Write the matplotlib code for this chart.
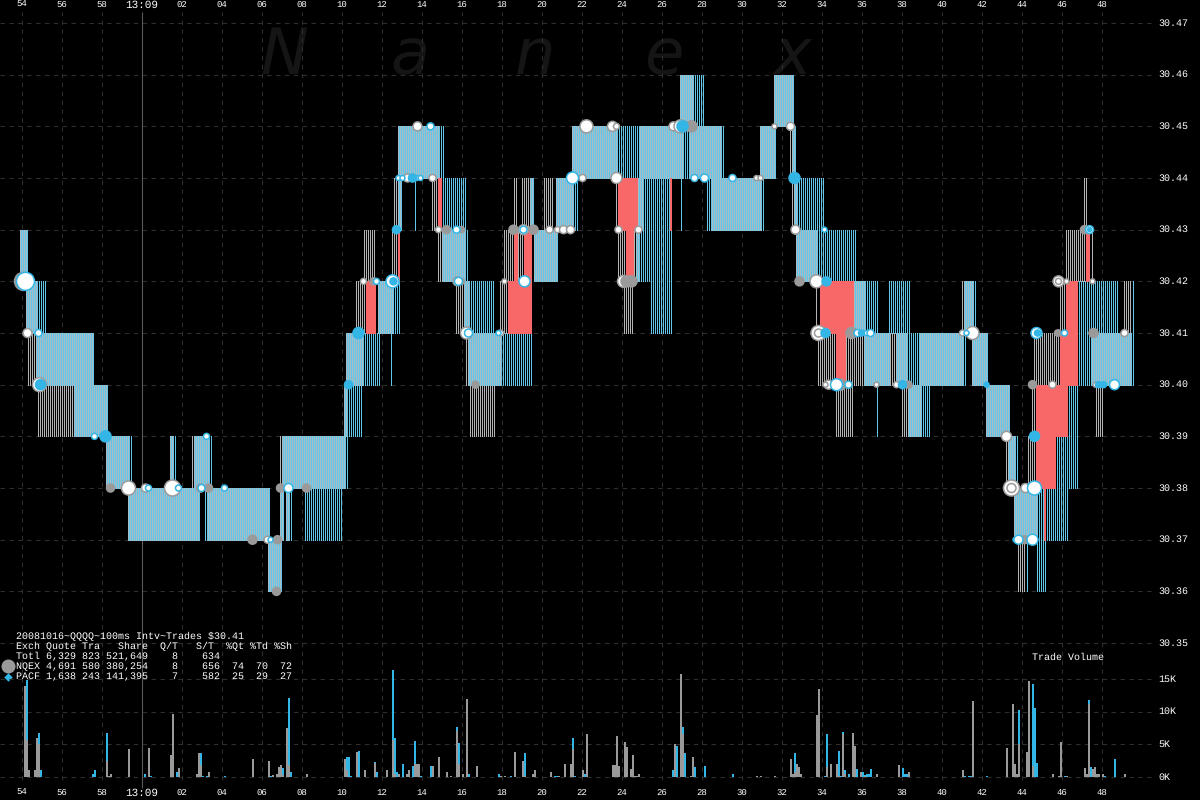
import numpy as np
import matplotlib
matplotlib.use('Agg')
import matplotlib.pyplot as plt

# x unit = one 100ms interval counted from 13:08:54
tick_pos = list(range(0, 560, 20))
tick_labels = ['54', '56', '58', '13:09', '02', '04', '06', '08', '10', '12', '14', '16', '18', '20',
               '22', '24', '26', '28', '30', '32', '34', '36', '38', '40', '42', '44', '46', '48']
price_ticks = [30.35, 30.36, 30.37, 30.38, 30.39, 30.40, 30.41, 30.42, 30.43, 30.44, 30.45, 30.46, 30.47]
vol_ticks = [0, 5, 10, 15]
vol_labels = ['0K', '5K', '10K', '15K']

# (first interval, last interval, bid) - every quote here is one cent wide
both_quotes = [
    (-1, 3, 30.42), (2, 8, 30.41), (7, 36, 30.40), (26, 43, 30.39), (42, 54, 30.38), (74, 76, 30.38),
    (86, 94, 30.38), (130, 162, 30.38), (53, 89, 30.37), (93, 124, 30.37), (129, 131, 30.37), (132, 134, 30.37),
    (123, 130, 30.36), (162, 171, 30.40), (161, 163, 30.39), (178, 186, 30.41), (188, 190, 30.43), (188, 209, 30.44),
    (210, 222, 30.42), (221, 224, 30.41), (223, 240, 30.40), (256, 268, 30.42), (254, 256, 30.43), (267, 276, 30.43),
    (275, 298, 30.44), (309, 331, 30.44), (334, 350, 30.44), (329, 336, 30.45), (376, 386, 30.45), (369, 377, 30.44),
    (385, 387, 30.44), (308, 311, 30.43), (345, 370, 30.43), (386, 388, 30.43), (307, 309, 30.42), (387, 398, 30.42),
    (416, 422, 30.41), (471, 476, 30.41), (421, 434, 30.40), (437, 443, 30.40), (449, 471, 30.40), (475, 483, 30.40),
    (443, 450, 30.39), (482, 494, 30.39), (493, 497, 30.38), (496, 508, 30.37), (535, 555, 30.40),
]
pacf_quotes = [
    (8, 12, 30.41), (54, 55, 30.38), (76, 77, 30.38), (94, 95, 30.38), (162, 163, 30.38), (91, 93, 30.37),
    (134, 135, 30.37), (141, 160, 30.37), (171, 179, 30.40), (163, 170, 30.39), (184, 185, 30.40), (186, 189, 30.41),
    (196, 197, 30.43), (210, 222, 30.43), (209, 211, 30.44), (222, 223, 30.42), (224, 236, 30.41), (240, 255, 30.40),
    (276, 278, 30.43), (298, 309, 30.44), (331, 334, 30.44), (350, 351, 30.44), (336, 341, 30.45), (311, 324, 30.43),
    (329, 330, 30.43), (342, 345, 30.43), (370, 371, 30.43), (388, 401, 30.43), (309, 325, 30.42), (398, 417, 30.42),
    (314, 325, 30.41), (422, 428, 30.41), (433, 444, 30.41), (476, 477, 30.41), (443, 449, 30.40), (471, 472, 30.40),
    (427, 428, 30.39), (450, 454, 30.39), (497, 498, 30.38), (508, 511, 30.37), (512, 523, 30.37), (502, 503, 30.36),
    (507, 512, 30.36), (517, 528, 30.38), (523, 528, 30.39), (528, 535, 30.40), (555, 556, 30.40), (528, 548, 30.41),
    (555, 556, 30.41),
]
nqex_quotes = [
    (3, 7, 30.40), (8, 26, 30.39), (85, 86, 30.38), (129, 130, 30.38), (167, 172, 30.41), (171, 177, 30.42),
    (185, 188, 30.42), (186, 188, 30.43), (205, 208, 30.43), (208, 210, 30.42), (217, 221, 30.41), (222, 223, 30.40),
    (224, 237, 30.39), (239, 243, 30.41), (241, 246, 30.42), (248, 251, 30.42), (246, 248, 30.43), (250, 254, 30.43),
    (261, 266, 30.43), (297, 298, 30.43), (298, 302, 30.42), (306, 307, 30.42), (301, 306, 30.41), (385, 386, 30.43),
    (384, 385, 30.44), (397, 398, 30.41), (470, 471, 30.41), (398, 407, 30.40), (412, 421, 30.40), (434, 437, 30.40),
    (407, 416, 30.39), (440, 443, 30.39), (492, 493, 30.38), (498, 502, 30.36), (503, 507, 30.38), (505, 507, 30.39),
    (506, 519, 30.40), (519, 522, 30.41), (551, 555, 30.41), (522, 532, 30.42), (535, 536, 30.42), (531, 533, 30.43),
    (537, 541, 30.39),
]
crossed_quotes = [
    (172, 177, 30.41), (188, 189, 30.42), (208, 210, 30.43), (243, 255, 30.41), (246, 248, 30.42), (251, 255, 30.42),
    (298, 308, 30.43), (324, 325, 30.43), (302, 306, 30.42), (399, 416, 30.41), (407, 412, 30.40), (507, 517, 30.38),
    (507, 523, 30.39), (511, 512, 30.37), (519, 528, 30.40), (522, 528, 30.41), (532, 534, 30.42),
]

# trades: (interval, price, size)
trades_gray = [
    (0.5, 30.42, 18), (44, 30.38, 8), (89, 30.38, 8), (93, 30.38, 8), (115, 30.37, 9), (127.5, 30.37, 8), (127, 30.36, 8),
    (129, 30.38, 8), (142, 30.38, 8), (175.5, 30.42, 7), (212, 30.43, 8), (219.5, 30.43, 6), (219.5, 30.42, 6),
    (226.5, 30.40, 7), (245.5, 30.43, 9), (255.5, 30.43, 9), (304.5, 30.42, 11), (302, 30.42, 11), (334.5, 30.45, 11),
    (332, 30.45, 9), (388.5, 30.42, 9), (414.5, 30.41, 11), (409, 30.40, 11), (443, 30.40, 7), (501, 30.37, 8),
    (505, 30.40, 8), (531, 30.43, 8), (535.5, 30.41, 9), (517.5, 30.41, 6),
]
trades_white_gray = [
    (2.5, 30.41, 9), (8.5, 30.40, 14), (53, 30.38, 14), (61.5, 30.38, 8), (75, 30.38, 16), (122.5, 30.37, 7), (192.5, 30.44, 8),
    (197.5, 30.45, 9), (205, 30.44, 7), (208, 30.43, 6), (170.5, 30.42, 6), (217.5, 30.42, 9), (222, 30.41, 12), (239, 30.41, 6),
    (241, 30.42, 5), (250.5, 30.43, 10), (263.5, 30.43, 7), (267.5, 30.43, 6), (270.5, 30.43, 8), (274, 30.43, 8), (280, 30.44, 7),
    (297, 30.44, 11), (282, 30.45, 13), (295, 30.45, 10), (297, 30.45, 6), (298, 30.43, 7), (308, 30.43, 7), (300.5, 30.42, 12),
    (325.5, 30.45, 9), (329, 30.45, 13), (367, 30.44, 5), (369, 30.44, 5), (376, 30.45, 5), (384, 30.45, 8), (386.5, 30.43, 9),
    (397, 30.42, 13), (398, 30.41, 15), (398, 30.41, 8), (403, 30.40, 9), (401.5, 30.40, 5), (427, 30.40, 5), (437, 30.40, 6),
    (470, 30.41, 6), (475, 30.41, 13), (492, 30.39, 10), (494.5, 30.38, 16), (494.5, 30.38, 9), (501.5, 30.38, 9), (515, 30.40, 7),
    (518, 30.42, 11), (518, 30.42, 6), (522, 30.42, 5), (518, 30.41, 6), (535, 30.42, 5), (551, 30.41, 7), (536.5, 30.40, 5),
]
trades_white_blue = [
    (1.5, 30.42, 18), (8, 30.41, 7), (36, 30.39, 6), (63, 30.38, 6), (89.5, 30.38, 7), (101, 30.38, 6), (92, 30.39, 6), (124, 30.37, 5),
    (133, 30.38, 9), (177, 30.42, 6), (185, 30.42, 13), (204, 30.45, 7), (188, 30.44, 5), (190, 30.44, 5), (197, 30.44, 5), (199, 30.44, 5),
    (217, 30.43, 7), (218, 30.42, 8), (223, 30.41, 8), (238, 30.41, 5), (251, 30.42, 11), (250.5, 30.43, 7), (275, 30.44, 12), (78, 30.38, 6),
    (336, 30.44, 7), (341, 30.44, 8), (355, 30.44, 7), (401, 30.43, 5), (413, 30.40, 7), (417.5, 30.41, 7), (422, 30.41, 5), (424, 30.41, 7),
    (472, 30.41, 5), (506, 30.38, 14), (496.5, 30.37, 5), (498, 30.37, 9), (505, 30.37, 11), (507, 30.41, 11), (521, 30.41, 6),
    (533.5, 30.43, 8), (546, 30.40, 10), (407, 30.40, 12),
]
trades_blue = [
    (9, 30.40, 10), (41.5, 30.39, 11), (195, 30.44, 8), (168, 30.41, 11), (163, 30.40, 8), (185.5, 30.42, 7), (187, 30.43, 8),
    (330, 30.45, 11), (386, 30.44, 11), (402, 30.42, 9), (401.5, 30.41, 9), (419.5, 30.41, 6), (440, 30.40, 8), (482, 30.40, 5),
    (506, 30.39, 10), (538, 30.40, 6), (540.5, 30.40, 6), (507.5, 30.41, 6), (533.5, 30.43, 4),
]

# trade volume per interval, thousands of shares
vol_idx = [1, 2, 3, 6, 7, 8, 9, 35, 36, 42, 43, 44, 53, 61, 63, 64, 74, 75, 77, 78, 87, 88, 89, 90, 92, 93, 101, 115, 123, 124, 125,
           127, 128, 129, 130, 132, 133, 134, 142, 161, 162, 163, 164, 167, 168, 171, 176, 177, 182, 185, 186, 187, 188, 190, 192,
           193, 195, 196, 197, 198, 199, 204, 205, 208, 212, 214, 217, 218, 220, 222, 223, 227, 238, 239, 241, 244, 246, 250, 251,
           255, 256, 264, 266, 267, 268, 271, 274, 275, 276, 280, 281, 282, 295, 296, 297, 298, 301, 302, 304, 305, 306, 307, 308,
           325, 326, 327, 329, 330, 331, 334, 335, 336, 341, 355, 367, 369, 376, 384, 385, 386, 387, 388, 389, 397, 398, 401, 402,
           404, 407, 408, 409, 410, 411, 413, 415, 416, 417, 419, 420, 421, 422, 423, 424, 427, 438, 440, 441, 442, 443, 470, 471,
           473, 474, 475, 482, 492, 495, 496, 497, 498, 502, 503, 505, 506, 507, 515, 518, 519, 521, 522, 531, 532, 533, 534, 535,
           536, 537, 538, 540, 541, 546, 551]
vol_nqex = [14, 5.7, 1.1, 1, 5.9, 5, 0, 0, 0, 2.4, .2, .5, 4.3, 0, 4.5, 0, 3.4, 9.7, 0, 1.4, .5, 3.7, 1.8, 0, 0, .8, 0, 2.8, 2.5, 0, .3,
            .5, 1.6, 1.9, .3, 7.5, 1.9, 0, .5, 2.8, 1.1, 0, 0, 3.9, 0, 1.1, 2.2, 0, 1, 5.7, .5, 0, .5, 0, .5,
            1.1, 0, 2, 2, 2, 0, 0, 1.7, 3, .8, .1, 7.1, 2, .4, 12, 0, 1.7, 0, .1, .1, 0, 3.9, 2.5, .2,
            .4, 1, .8, 0, 0, .2, 2, 2, 4.3, 0, 1, 0, 6.6, 1.9, 1.9, 6.3, 1.7, 5.4, 4.6, 1.3, 3.3, .2, .2, .4,
            0, 5.1, 0, 15.7, 6.6, 0, .2, 3.1, 0, 0, 0, .2, .2, .2, 2.7, .4, .8, 2, 1.6, .4, 9.5, 13.4, 0, 1.6,
            2, 2, .2, 0, 6.6, .5, 0, 6.8, 4.8, 0, .7, 0, .2, 0, 0, 0, .4, 1.9, 0, 0, 0, .8, 1, 0,
            0, 0, 11.7, 0, 4.5, 11.2, 2, .4, 5, 3.9, 14.7, 1.7, 0, 0, .4, .2, 5.4, 0, .2, 1.4, .5, 11.2, 0, 1.3,
            1.6, .4, .4, .5, 0, 0, .5]
vol_pacf = [0, 9.2, 0, 0, 0, 1.7, 1.1, .5, 1, 4.3, 0, 0, 0, .5, 0, .1, 0, 0, .7, 0, 0, 0, 1.9, .2, .1, 0, .1, 0, 0, .2, 0,
            0, 0, 0, 1.1, 0, 10.2, .8, 0, 0, 1.9, 3.1, .1, 0, 4, 0, .1, .8, 0, 10.7, 5.4, .8, 0, 2, 0,
            0, 1.7, 3.5, 0, 0, .1, 1.7, 0, 0, 0, 0, .6, 3.2, 0, 0, .5, 0, .5, 0, 0, .2, 0, 0, 3.4,
            0, 0, 0, .2, .2, 0, 0, 0, 1.6, .1, 0, .5, 0, 0, 0, 0, 0, 0, 0, 0, 0, 0, 0, 0,
            1, 0, 4.8, 0, 1.1, 3.6, 0, 0, 1.6, 1.7, .5, 0, 0, 0, 0, 0, 2.9, 0, 0, 0, 0, 0, .2, 5,
            0, 0, 3.8, .1, .3, .5, .4, 0, 0, 1.3, 0, .8, .1, .5, .5, 1.3, 0, 0, 1.4, .5, .5, 0, 0, .1,
            .1, .1, 0, .2, 0, 0, 0, 0, 5.2, 0, 0, 12.6, 10.5, 2.2, 0, 0, 0, .2, 0, 0, 0, .6, 1.6, 0,
            0, 0, 0, 0, .2, 2.8, 0]

title_line = '20081016~QQQQ~100ms Intv~Trades $30.41'
table_rows = ['Exch Quote Tra   Share  Q/T   S/T  %Qt %Td %Sh',
              'Totl 6,329 823 521,649    8    634',
              'NQEX 4,691 580 380,254    8    656  74  70  72',
              'PACF 1,638 243 141,395    7    582  25  29  27']

GRAY = '#b4b4b4'
SOLID_GRAY = '#a9bcc6'
BLUE = '#62c6e8'
RED = '#f96868'
DOT_GRAY = '#9a9a9a'
DOT_BLUE = '#33b5e5'
GRID = '#2e2e2e'
MONO = 'Liberation Mono'

plt.rcParams['font.family'] = MONO
plt.rcParams['text.hinting'] = 'none'
plt.rcParams['text.hinting_factor'] = 1


def column_lines(ax, quotes, offset, color, zorder=2):
    xs, lows, highs = [], [], []
    for first, last, bid in quotes:
        for n in range(first, last):
            xs.append(n + offset)
            lows.append(bid)
            highs.append(bid + 0.01)
    ax.vlines(xs, lows, highs, colors=color, linewidth=0.72, antialiased=False, zorder=zorder)


def draw_trades(ax, trades, face, edge, zorder):
    arr = np.array(trades)
    size = (arr[:, 2] * 0.72) ** 2
    ax.scatter(arr[:, 0] + 0.25, arr[:, 1], s=size, c=face, edgecolors=edge, linewidths=1.1, zorder=zorder)


fig = plt.figure(figsize=(12, 8), dpi=100, facecolor='black')
ax = fig.add_axes([0, 0, 1, 1], facecolor='black')
ax.set_xlim(-11, 589)
ax.set_ylim(30.47 - 777 / 5167, 30.47 + 23 / 5167)
ax.axis('off')

ax_vol = fig.add_axes([0, 0, 1, 1], facecolor='none')
ax_vol.set_xlim(-11, 589)
ax_vol.set_ylim(-23 / 6.533, 777 / 6.533)
ax_vol.axis('off')

# watermark
for letter, px in zip('Nanex', [260, 390, 515, 644, 774]):
    ax.text(px / 1200, 1 - 74 / 800, letter, transform=fig.transFigure, family='DejaVu Sans', style='italic',
            fontsize=46, color='#151515', zorder=0.5, va='baseline', ha='left')

# grid
dash = (0, (4, 4))
ax.hlines(price_ticks, -11, 565, colors=GRID, linestyles=dash, linewidth=0.8, zorder=1)
ax_vol.hlines(vol_ticks, -11, 565, colors=GRID, linestyles=dash, linewidth=0.8, zorder=1)
grid_low = 30.47 - 757 / 5167
grid_high = 30.47 + 11 / 5167
ax.vlines([t for t in tick_pos if t != 60], grid_low, grid_high, colors=GRID, linestyles=dash, linewidth=0.8, zorder=1)
ax.vlines([60], 30.47 - 765 / 5167, grid_high, colors='#5a5a5a', linewidth=0.8, zorder=1)

# quotes, one gray and one blue pixel column per interval
column_lines(ax, nqex_quotes, 0.1, GRAY)
column_lines(ax, both_quotes, 0.1, SOLID_GRAY)
column_lines(ax, both_quotes + pacf_quotes, 0.6, BLUE)
column_lines(ax, crossed_quotes, 0.1, RED, zorder=3)
column_lines(ax, crossed_quotes, 0.6, RED, zorder=3)

draw_trades(ax, trades_white_gray, 'white', DOT_GRAY, 4)
draw_trades(ax, trades_gray, DOT_GRAY, DOT_GRAY, 5)
draw_trades(ax, trades_white_blue, 'white', DOT_BLUE, 6)
draw_trades(ax, trades_blue, DOT_BLUE, DOT_BLUE, 7)

# volume bars
vol_nqex = np.array(vol_nqex)
vol_pacf = np.array(vol_pacf)
ax_vol.bar(vol_idx, vol_nqex, width=1, align='edge', color=DOT_GRAY, linewidth=0, zorder=3)
ax_vol.bar(vol_idx, vol_pacf, bottom=vol_nqex, width=1, align='edge', color=DOT_BLUE, linewidth=0, zorder=3)

# x labels top and bottom
for pos, label in zip(tick_pos, tick_labels):
    fs = 7.8 if ':' in label else 6.2
    px = 22 + 2 * pos
    for py in (5, 793):
        fig.text(px / 1200, 1 - py / 800, label, color='white', fontsize=fs, ha='center', va='center')

# right labels
for p in price_ticks:
    py = 23 + (30.47 - p) * 5167
    fig.text(1158 / 1200, 1 - py / 800, '%.2f' % p, color='white', fontsize=7.25, ha='left', va='center')
for v, label in zip(vol_ticks, vol_labels):
    py = 777 - v * 6.533
    fig.text(1158 / 1200, 1 - py / 800, label, color='white', fontsize=7.25, ha='left', va='center')

fig.text(1032 / 1200, 1 - 657 / 800, 'Trade Volume', color='white', fontsize=7.25, ha='left', va='center')

# stats block
fig.text(16 / 1200, 1 - 637 / 800, title_line, color='white', fontsize=7.25, ha='left', va='center')
for i, row in enumerate(table_rows):
    fig.text(16 / 1200, 1 - (647 + 10 * i) / 800, row, color='white', fontsize=7.25, ha='left', va='center')
ax.scatter([-7], [30.47 - 643 / 5167], s=(14 * 0.72) ** 2, c=DOT_GRAY, linewidths=0, zorder=8)
ax.scatter([-7], [30.47 - 654 / 5167], s=(6 * 0.72) ** 2, c=DOT_BLUE, marker='D', linewidths=0, zorder=8)

fig.savefig('out.png', dpi=100, facecolor='black')
